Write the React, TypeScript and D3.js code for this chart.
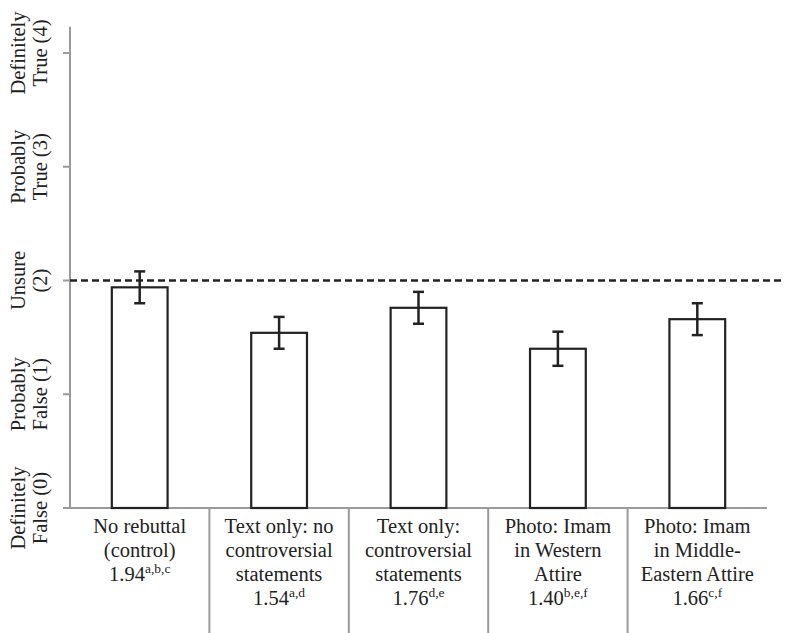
import React from "react";
import * as d3 from "d3";

const categories = ["No rebuttal", "Text only: no", "Text only: contr", "Photo: Western", "Photo: Middle-Eastern"];
const categoryLabels: string[][] = [
  ["No rebuttal", "(control)"],
  ["Text only: no", "controversial", "statements"],
  ["Text only:", "controversial", "statements"],
  ["Photo: Imam", "in Western", "Attire"],
  ["Photo: Imam", "in Middle-", "Eastern Attire"],
];
const valueLabels = ["1.94", "1.54", "1.76", "1.40", "1.66"];
const superscripts = ["a,b,c", "a,d", "d,e", "b,e,f", "c,f"];
const means = [1.94, 1.54, 1.76, 1.4, 1.66];
const errors = [0.14, 0.14, 0.14, 0.15, 0.14];
const yTicks = [0, 1, 2, 3, 4];
const yTickLabels: string[][] = [
  ["Definitely", "False (0)"],
  ["Probably", "False (1)"],
  ["Unsure", "(2)"],
  ["Probably", "True (3)"],
  ["Definitely", "True (4)"],
];
const referenceValue = 2;

const W = 793;
const H = 633;
const axisGray = "#9a9a9a";
const ink = "#222";
const font = '"Liberation Serif"';
const fs = 20.5;

export default function App() {
  const y = d3.scaleLinear().domain([0, 4]).range([508, 53]);
  const x = d3.scaleBand<string>().domain(categories).range([70, 767]).padding(0);
  const bw = x.bandwidth() * 0.4;
  const capW = 11;
  const axisX = 70;
  const lineH = 24;

  return (
    <svg width={W} height={H} style={{ position: "absolute", left: 0, top: 0 }}>
      {/* y axis */}
      <line x1={axisX} x2={axisX} y1={y(4.23)} y2={y(0)} stroke={axisGray} strokeWidth={2} />
      {yTicks.map((t) => (
        <line key={t} x1={axisX - 7} x2={axisX} y1={y(t)} y2={y(t)} stroke={axisGray} strokeWidth={2} />
      ))}
      {yTicks.map((t, i) => (
        <g key={"yl" + t} transform={`translate(0,${y(t)})`}>
          {yTickLabels[i].map((ln, j) => (
            <text
              key={j}
              transform={`translate(${25 + j * 22},0) rotate(-90)`}
              textAnchor="middle"
              fontSize={fs}
              fill={ink}
              style={{ fontFamily: font }}
            >
              {ln}
            </text>
          ))}
        </g>
      ))}
      {/* x axis */}
      <line x1={axisX - 7} x2={x.range()[1]} y1={y(0)} y2={y(0)} stroke={axisGray} strokeWidth={2} />
      {categories.slice(1).map((c) => (
        <line key={"sep" + c} x1={x(c)!} x2={x(c)!} y1={y(0)} y2={H} stroke={axisGray} strokeWidth={2} />
      ))}
      {/* bars */}
      {categories.map((c, i) => {
        const cx = x(c)! + x.bandwidth() / 2;
        return (
          <g key={"bar" + c}>
            <rect
              x={cx - bw / 2}
              y={y(means[i])}
              width={bw}
              height={y(0) - y(means[i])}
              fill="#fff"
              stroke={ink}
              strokeWidth={2.2}
            />
            <line x1={cx} x2={cx} y1={y(means[i] + errors[i])} y2={y(means[i] - errors[i])} stroke={ink} strokeWidth={2.5} />
            <line x1={cx - capW / 2} x2={cx + capW / 2} y1={y(means[i] + errors[i])} y2={y(means[i] + errors[i])} stroke={ink} strokeWidth={2.5} />
            <line x1={cx - capW / 2} x2={cx + capW / 2} y1={y(means[i] - errors[i])} y2={y(means[i] - errors[i])} stroke={ink} strokeWidth={2.5} />
          </g>
        );
      })}
      {/* reference dashed line */}
      <line x1={axisX} x2={784} y1={y(referenceValue)} y2={y(referenceValue)} stroke={ink} strokeWidth={2.5} strokeDasharray="7,4" />
      {/* x labels */}
      {categories.map((c, i) => {
        const cx = x(c)! + x.bandwidth() / 2;
        const lines = categoryLabels[i];
        return (
          <g key={"xl" + c} fill={ink}>
            {lines.map((ln, j) => (
              <text key={j} x={cx} y={533 + j * lineH} textAnchor="middle" fontSize={fs} style={{ fontFamily: font }}>
                {ln}
              </text>
            ))}
            <text x={cx} y={533 + lines.length * lineH} textAnchor="middle" fontSize={fs} style={{ fontFamily: font }}>
              {valueLabels[i]}
              <tspan fontSize={13.5} dy={-8}>
                {superscripts[i]}
              </tspan>
            </text>
          </g>
        );
      })}
    </svg>
  );
}
